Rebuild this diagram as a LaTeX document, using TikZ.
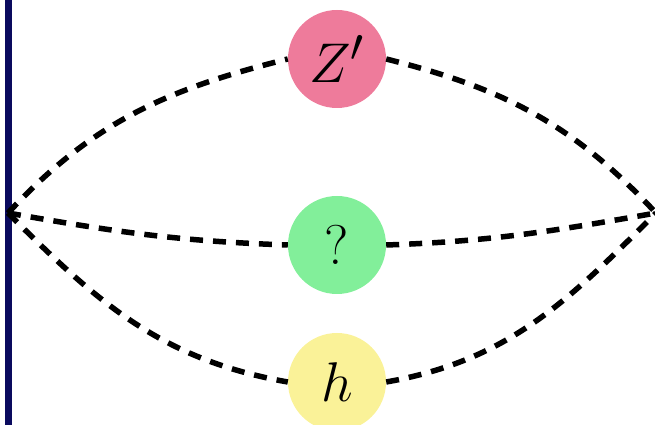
\documentclass[tikz,border=0pt]{standalone}
\usepackage{graphicx}
\usepackage{tikz}
\definecolor{zpink}{HTML}{EE7B9B}
\definecolor{qgreen}{HTML}{82EF9A}
\definecolor{hyellow}{HTML}{FAF298}
\definecolor{navyline}{HTML}{0A0A5E}
\newcommand{\biglab}[1]{\scalebox{2.25}{\Huge #1}}
\begin{document}
\begin{tikzpicture}[x=1pt,y=1pt,
  blob/.style={circle,minimum size=98pt,inner sep=0pt},
  prop/.style={line width=5.5pt,dash pattern=on 13pt off 10pt,draw=black}]
\useasboundingbox (0,0) rectangle (655,425);
\draw[navyline,line width=6.5pt] (8.5,0) -- (8.5,425);
\coordinate (L) at (8,212);
\coordinate (R) at (656,212);
\node[blob,fill=zpink] (Z) at (337,366) {\biglab{$Z'$}};
\node[blob,fill=qgreen] (Q) at (337,180) {\biglab{$?$}};
\node[blob,fill=hyellow] (H) at (337,43) {\biglab{$h$}};
\draw[prop] (L) to[out=47,in=194] (Z.west);
\draw[prop] (Z.east) to[out=-14,in=133] (R);
\draw[prop] (L) to[out=-10,in=178] (Q.west);
\draw[prop] (Q.east) to[out=2,in=190] (R);
\draw[prop] (L) to[out=-45,in=170] (H.west);
\draw[prop] (H.east) to[out=10,in=225] (R);
\end{tikzpicture}
\end{document}
